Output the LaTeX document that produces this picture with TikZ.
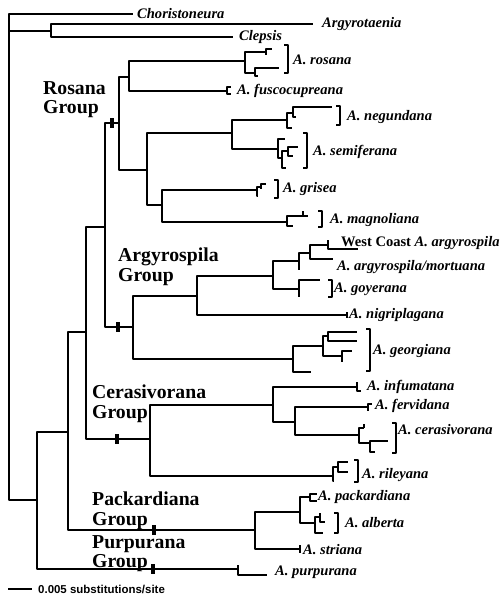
\documentclass[tikz,border=0pt]{standalone}
\usepackage{fontspec}
\setmainfont{Liberation Serif}
\setsansfont{Liberation Sans}
\usepackage{tikz}
\usetikzlibrary{arrows.meta}

\newcommand{\taxfont}{\fontsize{14.6}{14.6}\selectfont\bfseries\itshape}
\newcommand{\grpfont}{\fontsize{19.8}{19.5}\selectfont\bfseries}

\begin{document}
\begin{tikzpicture}[x=1bp,y=-1bp,line join=bevel,
  br/.style={black,line width=1.1pt},
  taxon/.style={anchor=west,inner sep=0pt,font=\taxfont},
  grp/.style={anchor=north west,inner sep=0pt,align=left,font=\grpfont},
  hashbar/.style={fill=black,draw=none,minimum width=4bp,minimum height=10bp,inner sep=0pt},
]
\useasboundingbox (0,0) rectangle (502,598);
%%
\coordinate (root) at (9,31);
  \coordinate (og) at (51,31);
  \coordinate (t_chor) at (133,14);
  \coordinate (t_argy) at (313,24);
  \coordinate (t_clep) at (233,37);
  \node (chor) at (137,14) [taxon] {Choristoneura};
  \node (argy) at (322,24) [taxon] {Argyrotaenia};
  \node (clep) at (239,37) [taxon] {Clepsis};
  % backbone
  \coordinate (n_in) at (37,500);
  \coordinate (n_b2) at (68,432);
  \coordinate (n_b3) at (86,332);
  \coordinate (n_b4) at (105,227);
  \coordinate (n_ros) at (119,123);
  \coordinate (n_arg) at (133,327);
  \coordinate (n_cer) at (150,439);
  \coordinate (n_pack) at (255,530);
  \coordinate (n_purp) at (238,569);
  % rosana group
  \coordinate (n_rf) at (129,77);
  \coordinate (n_ng) at (147,170);
  \coordinate (n_rosana) at (245,61);
  \coordinate (n_rosA) at (266,52);
  \coordinate (t_rosA1) at (272,49);
  \coordinate (t_rosA2) at (266,55);
  \coordinate (n_rosB) at (255,73);
  \coordinate (t_rosB1) at (279,68);
  \coordinate (t_rosB2) at (258,76);
  \coordinate (n_fusco) at (227,91);
  \coordinate (t_fusco1) at (231,87);
  \coordinate (t_fusco2) at (231,94);
  \coordinate (n_ns) at (232,133);
  \coordinate (n_gm) at (162,205);
  \coordinate (n_neg) at (287,120);
  \coordinate (n_negA) at (293,113);
  \coordinate (t_negA1) at (332,107);
  \coordinate (t_negA2) at (296,117);
  \coordinate (t_neg) at (292,128);
  \coordinate (n_sem) at (278,149);
  \coordinate (t_sem) at (285,139);
  \coordinate (n_semB) at (282,158);
  \coordinate (t_semB) at (286,168);
  \coordinate (n_semC) at (288,151);
  \coordinate (t_semC1) at (298,147);
  \coordinate (t_semC2) at (293,156);
  \coordinate (n_gri) at (257,190);
  \coordinate (n_griA) at (261,187);
  \coordinate (t_griA1) at (266,184);
  \coordinate (t_griA2) at (261,189);
  \coordinate (t_gri) at (258,196);
  \coordinate (n_mag) at (287,222);
  \coordinate (n_magA) at (303,216);
  \coordinate (t_magA1) at (303,211);
  \coordinate (t_magA2) at (308,216);
  \coordinate (t_mag) at (293,226);
  \node (rosana) at (293,60) [taxon] {A. rosana};
  \node (fusco) at (237,91) [taxon] {A. fuscocupreana};
  \node (negund) at (347,117) [taxon] {A. negundana};
  \node (semif) at (313,152) [taxon] {A. semiferana};
  \node (grisea) at (283,189) [taxon] {A. grisea};
  \node (magnol) at (330,220) [taxon] {A. magnoliana};
  % argyrospila group
  \coordinate (n_ag1) at (197,296);
  \coordinate (n_geo) at (293,359);
  \coordinate (n_ag2) at (273,276);
  \coordinate (n_ag3) at (299,261);
  \coordinate (t_ag3) at (299,270);
  \coordinate (n_ag4) at (310,253);
  \coordinate (n_wc) at (328,245);
  \coordinate (t_wc1) at (328,240);
  \coordinate (t_wc2) at (358,249);
  \coordinate (t_mort) at (333,259);
  \coordinate (n_goy) at (299,289);
  \coordinate (t_goy1) at (320,280);
  \coordinate (t_goy2) at (299,297);
  \coordinate (n_nig) at (347,315);
  \coordinate (t_nig1) at (347,312);
  \coordinate (t_nig2) at (347,318);
  \coordinate (n_geoA) at (323,346);
  \coordinate (t_geo) at (311,372);
  \coordinate (n_geoB) at (328,336);
  \coordinate (t_geoB1) at (357,332);
  \coordinate (t_geoB2) at (357,341);
  \coordinate (n_geoC) at (342,356);
  \coordinate (t_geoC1) at (352,351);
  \coordinate (t_geoC2) at (342,362);
  \node (westc) at (341,243) [taxon] {\upshape West Coast \itshape A. argyrospila};
  \node (mortu) at (337,267) [taxon] {A. argyrospila/mortuana};
  \node (goyer) at (334,289) [taxon] {A. goyerana};
  \node (nigri) at (349,315) [taxon] {A. nigriplagana};
  \node (georg) at (373,351) [taxon] {A. georgiana};
  % cerasivorana group
  \coordinate (n_c1) at (273,405);
  \coordinate (n_ril) at (333,476);
  \coordinate (n_inf) at (357,387);
  \coordinate (t_inf1) at (357,382);
  \coordinate (t_inf2) at (361,391);
  \coordinate (n_c2) at (295,422);
  \coordinate (n_ferv) at (368,407);
  \coordinate (t_ferv1) at (372,404);
  \coordinate (t_ferv2) at (368,411);
  \coordinate (n_cera) at (359,435);
  \coordinate (n_ceA) at (364,428);
  \coordinate (t_ceA) at (364,424);
  \coordinate (n_ceB) at (370,443);
  \coordinate (t_ceB1) at (388,441);
  \coordinate (t_ceB2) at (375,452);
  \coordinate (n_rilA) at (338,467);
  \coordinate (t_rilA1) at (348,462);
  \coordinate (t_rilA2) at (348,472);
  \coordinate (t_ril) at (334,481);
  \node (infum) at (367,387) [taxon] {A. infumatana};
  \node (fervi) at (375,406) [taxon] {A. fervidana};
  \node (ceras) at (398,430) [taxon] {A. cerasivorana};
  \node (riley) at (362,475) [taxon] {A. rileyana};
  % packardiana and purpurana groups
  \coordinate (n_p1) at (300,512);
  \coordinate (n_pa) at (310,497);
  \coordinate (t_pa1) at (317,494);
  \coordinate (t_pa2) at (317,501);
  \coordinate (n_al) at (315,523);
  \coordinate (n_alA) at (320,517);
  \coordinate (t_alA1) at (320,513);
  \coordinate (t_alA2) at (325,522);
  \coordinate (t_al) at (323,533);
  \coordinate (n_str) at (300,549);
  \coordinate (t_str1) at (300,545);
  \coordinate (t_str2) at (300,553);
  \coordinate (t_purp1) at (238,565);
  \coordinate (t_purp2) at (267,575);
  \node (packa) at (318,497) [taxon] {A. packardiana};
  \node (alber) at (345,523) [taxon] {A. alberta};
  \node (stria) at (303,550) [taxon] {A. striana};
  \node (purpu) at (275,572) [taxon] {A. purpurana};
  % group names
  \node (g_ros) at (43,81) [grp] {Rosana\\Group};
  \node (g_arg) at (118,248) [grp] {Argyrospila\\Group};
  \node (g_cer) at (92,385) [grp] {Cerasivorana\\Group};
  \node (g_pack) at (92,492) [grp] {Packardiana\\Group};
  \node (g_purp) at (92,535) [grp] {Purpurana\\Group};
  % branches
  \draw [br] (root) |- (t_chor);
  \draw [br] (root) |- (og);
  \draw [br] (og) |- (t_argy);
  \draw [br] (og) |- (t_clep);
  \draw [br] (root) |- (n_in);
  \draw [br] (n_in) |- (n_b2);
  \draw [br] (n_in) |- (n_purp);
  \draw [br] (n_b2) |- (n_b3);
  \draw [br] (n_b2) |- (n_pack);
  \draw [br] (n_b3) |- (n_b4);
  \draw [br] (n_b3) |- (n_cer);
  \draw [br] (n_b4) |- (n_ros);
  \draw [br] (n_b4) |- (n_arg);
  \draw [br] (n_ros) |- (n_rf);
  \draw [br] (n_ros) |- (n_ng);
  \draw [br] (n_rf) |- (n_rosana);
  \draw [br] (n_rf) |- (n_fusco);
  \draw [br] (n_rosana) |- (n_rosA);
  \draw [br] (n_rosana) |- (n_rosB);
  \draw [br] (n_rosA) |- (t_rosA1);
  \draw [br] (n_rosA) |- (t_rosA2);
  \draw [br] (n_rosB) |- (t_rosB1);
  \draw [br] (n_rosB) |- (t_rosB2);
  \draw [br] (n_fusco) |- (t_fusco1);
  \draw [br] (n_fusco) |- (t_fusco2);
  \draw [br] (n_ng) |- (n_ns);
  \draw [br] (n_ng) |- (n_gm);
  \draw [br] (n_ns) |- (n_neg);
  \draw [br] (n_ns) |- (n_sem);
  \draw [br] (n_neg) |- (n_negA);
  \draw [br] (n_neg) |- (t_neg);
  \draw [br] (n_negA) |- (t_negA1);
  \draw [br] (n_negA) |- (t_negA2);
  \draw [br] (n_sem) |- (t_sem);
  \draw [br] (n_sem) |- (n_semB);
  \draw [br] (n_semB) |- (n_semC);
  \draw [br] (n_semB) |- (t_semB);
  \draw [br] (n_semC) |- (t_semC1);
  \draw [br] (n_semC) |- (t_semC2);
  \draw [br] (n_gm) |- (n_gri);
  \draw [br] (n_gm) |- (n_mag);
  \draw [br] (n_gri) |- (n_griA);
  \draw [br] (n_gri) |- (t_gri);
  \draw [br] (n_griA) |- (t_griA1);
  \draw [br] (n_griA) |- (t_griA2);
  \draw [br] (n_mag) |- (n_magA);
  \draw [br] (n_mag) |- (t_mag);
  \draw [br] (n_magA) |- (t_magA1);
  \draw [br] (n_magA) |- (t_magA2);
  \draw [br] (n_arg) |- (n_ag1);
  \draw [br] (n_arg) |- (n_geo);
  \draw [br] (n_ag1) |- (n_ag2);
  \draw [br] (n_ag1) |- (n_nig);
  \draw [br] (n_nig) |- (t_nig1);
  \draw [br] (n_nig) |- (t_nig2);
  \draw [br] (n_ag2) |- (n_ag3);
  \draw [br] (n_ag2) |- (n_goy);
  \draw [br] (n_ag3) |- (n_ag4);
  \draw [br] (n_ag3) |- (t_ag3);
  \draw [br] (n_ag4) |- (n_wc);
  \draw [br] (n_ag4) |- (t_mort);
  \draw [br] (n_wc) |- (t_wc1);
  \draw [br] (n_wc) |- (t_wc2);
  \draw [br] (n_goy) |- (t_goy1);
  \draw [br] (n_goy) |- (t_goy2);
  \draw [br] (n_geo) |- (n_geoA);
  \draw [br] (n_geo) |- (t_geo);
  \draw [br] (n_geoA) |- (n_geoB);
  \draw [br] (n_geoA) |- (n_geoC);
  \draw [br] (n_geoB) |- (t_geoB1);
  \draw [br] (n_geoB) |- (t_geoB2);
  \draw [br] (n_geoC) |- (t_geoC1);
  \draw [br] (n_geoC) |- (t_geoC2);
  \draw [br] (n_cer) |- (n_c1);
  \draw [br] (n_cer) |- (n_ril);
  \draw [br] (n_c1) |- (n_inf);
  \draw [br] (n_c1) |- (n_c2);
  \draw [br] (n_inf) |- (t_inf1);
  \draw [br] (n_inf) |- (t_inf2);
  \draw [br] (n_c2) |- (n_ferv);
  \draw [br] (n_c2) |- (n_cera);
  \draw [br] (n_ferv) |- (t_ferv1);
  \draw [br] (n_ferv) |- (t_ferv2);
  \draw [br] (n_cera) |- (n_ceA);
  \draw [br] (n_cera) |- (n_ceB);
  \draw [br] (n_ceA) |- (t_ceA);
  \draw [br] (n_ceB) |- (t_ceB1);
  \draw [br] (n_ceB) |- (t_ceB2);
  \draw [br] (n_ril) |- (n_rilA);
  \draw [br] (n_ril) |- (t_ril);
  \draw [br] (n_rilA) |- (t_rilA1);
  \draw [br] (n_rilA) |- (t_rilA2);
  \draw [br] (n_pack) |- (n_p1);
  \draw [br] (n_pack) |- (n_str);
  \draw [br] (n_p1) |- (n_pa);
  \draw [br] (n_p1) |- (n_al);
  \draw [br] (n_pa) |- (t_pa1);
  \draw [br] (n_pa) |- (t_pa2);
  \draw [br] (n_al) |- (n_alA);
  \draw [br] (n_al) |- (t_al);
  \draw [br] (n_alA) |- (t_alA1);
  \draw [br] (n_alA) |- (t_alA2);
  \draw [br] (n_str) |- (t_str1);
  \draw [br] (n_str) |- (t_str2);
  \draw [br] (n_purp) |- (t_purp1);
  \draw [br] (n_purp) |- (t_purp2);
  % group bars
  \node (bar_ros) at (112,123) [hashbar] {};
  \node (bar_arg) at (118,327) [hashbar] {};
  \node (bar_cer) at (117,439) [hashbar] {};
  \node (bar_pack) at (154,530) [hashbar] {};
  \node (bar_purp) at (153,569) [hashbar] {};
  % brackets
  \draw [br] (284,45) -- (288,45) -- (288,73) -- (284,73);
  \draw [br] (336,106) -- (340,106) -- (340,125) -- (336,125);
  \draw [br] (303,133) -- (307,133) -- (307,168) -- (303,168);
  \draw [br] (274,180) -- (278,180) -- (278,198) -- (274,198);
  \draw [br] (318,211) -- (322,211) -- (322,227) -- (318,227);
  \draw [br] (328,280) -- (332,280) -- (332,297) -- (328,297);
  \draw [br] (366,329) -- (370,329) -- (370,371) -- (366,371);
  \draw [br] (392,423) -- (396,423) -- (396,453) -- (392,453);
  \draw [br] (354,460) -- (358,460) -- (358,482) -- (354,482);
  \draw [br] (334,513) -- (338,513) -- (338,533) -- (334,533);
  % scale
  \coordinate (sc_a) at (8,589);
  \coordinate (sc_b) at (32,589);
  \draw [br] (sc_a) -- (sc_b);
  \node (sc_txt) at (38,589) [anchor=west,inner sep=0pt,font=\sffamily\bfseries\fontsize{11.5}{11.5}\selectfont] {0.005 substitutions/site};
%
\end{tikzpicture}
\end{document}
